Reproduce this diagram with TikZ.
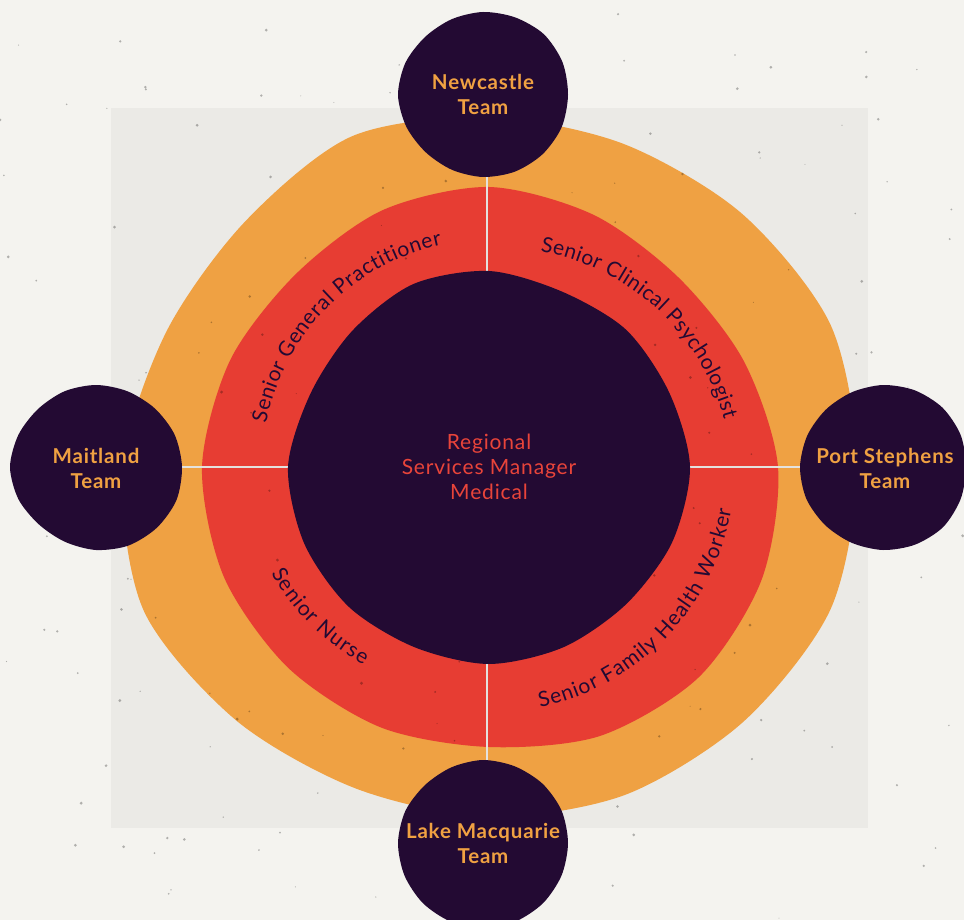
\documentclass[tikz,border=0pt]{standalone}
\usepackage{fontspec}
\setmainfont{Lato}
\newfontfamily\teamfont{Lato}[LetterSpace=4]
\newfontfamily\centerfont{Lato}[LetterSpace=4]
\newfontfamily\ringfont{Lato}
\usetikzlibrary{decorations.text}
\definecolor{bgout}{HTML}{F4F3EF}
\definecolor{bgsq}{HTML}{EBEAE6}
\definecolor{orng}{HTML}{EFA143}
\definecolor{redring}{HTML}{E73D33}
\definecolor{plum}{HTML}{230A33}
\definecolor{teamtxt}{HTML}{F0A142}
\definecolor{ctrtxt}{HTML}{E8443A}
\definecolor{linkline}{HTML}{E4E2DE}
\begin{document}
\begin{tikzpicture}[x=1pt,y=1pt,
  blob/.style={fill=plum},
  teamlabel/.style={text=teamtxt, font=\teamfont\bfseries\fontsize{20.5}{25}\selectfont, align=center, inner sep=0pt},
  centerlabel/.style={text=ctrtxt, font=\centerfont\fontsize{21}{25}\selectfont, align=center, inner sep=0pt},
  link/.style={draw=linkline, line width=2.6pt},
  speck/.style={fill=black, fill opacity=0.28},
  ringlabel/.style={decorate, decoration={text along path, text align=fit to path,
     text={|\ringfont\fontsize{21}{24}\selectfont\color{plum}|#1}}}
]
\useasboundingbox (0,-920) rectangle (964,0);
\fill[bgout] (0,-920) rectangle (964,0);
\fill[bgsq] (111,-108) rectangle (868,-828);

% named points
\coordinate (C) at (489,-467);
\coordinate (C2) at (500,-480);
\coordinate (C3) at (480,-455);
\coordinate (nwEnd) at (487,-170);
\coordinate (topIn) at (487,-285);
\coordinate (botIn) at (487,-650);
\coordinate (lmEnd) at (487,-768);
\coordinate (mtEnd) at (175,-467);
\coordinate (leftIn) at (300,-467);
\coordinate (rightIn) at (680,-467);
\coordinate (psEnd) at (808,-467);

\begin{scope}[shift={(489,-467)}]
% orange outer blob
\fill[orng] plot[smooth cycle] coordinates {(0:368) (22.5:370) (45:358) (67.5:350) (90:350) (112.5:358) (135:346) (157.5:350) (180:366) (202.5:374) (225:358) (247.5:348) (270:350) (292.5:355) (315:360) (337.5:370)};
% red ring
\fill[redring] plot[smooth cycle] coordinates {(0:289) (22.5:276) (45:268) (67.5:273) (90:280) (112.5:278) (135:273) (157.5:280) (180:287) (202.5:287) (225:284) (247.5:282) (270:280) (292.5:291) (315:297) (337.5:295)};
\end{scope}

% speckles
\pgfmathsetseed{7}
\foreach \i in {1,...,170}{
  \pgfmathsetmacro\dx{rnd*964}
  \pgfmathsetmacro\dy{-rnd*920}
  \pgfmathsetmacro\dr{0.5+rnd*1.1}
  \fill[speck] (\dx,\dy) circle[radius=\dr];
}

% connector lines
\draw[link] (nwEnd) -- (topIn);
\draw[link] (botIn) -- (lmEnd);
\draw[link] (mtEnd) -- (leftIn);
\draw[link] (rightIn) -- (psEnd);

% dark centre
\begin{scope}[shift={(489,-467)}]
\fill[blob] plot[smooth cycle] coordinates {(0:201) (22.5:195) (45:194) (67.5:190) (90:196) (112.5:198) (135:193) (157.5:193) (180:201) (202.5:200) (225:198) (247.5:195) (270:197) (292.5:195) (315:194) (337.5:198)};
\end{scope}

% team blobs
\begin{scope}[shift={(483,-95)}]
\fill[blob] plot[smooth cycle] coordinates {(0:85) (22.5:86) (45:86) (67.5:84) (90:83) (112.5:82) (135:82) (157.5:84) (180:85) (202.5:83) (225:81) (247.5:81) (270:82) (292.5:83) (315:84) (337.5:85)};
\end{scope}
\begin{scope}[shift={(96,-467)}]
\fill[blob] plot[smooth cycle] coordinates {(0:86) (22.5:85) (45:83) (67.5:82) (90:82) (112.5:82) (135:82) (157.5:84) (180:86) (202.5:84) (225:81) (247.5:81) (270:83) (292.5:85) (315:86) (337.5:87)};
\end{scope}
\begin{scope}[shift={(883,-467)}]
\fill[blob] plot[smooth cycle] coordinates {(0:83) (22.5:84) (45:84) (67.5:83) (90:82) (112.5:81) (135:81) (157.5:82) (180:83) (202.5:83) (225:82) (247.5:82) (270:83) (292.5:84) (315:85) (337.5:84)};
\end{scope}
\begin{scope}[shift={(483,-843)}]
\fill[blob] plot[smooth cycle] coordinates {(0:85) (22.5:85) (45:84) (67.5:83) (90:83) (112.5:82) (135:82) (157.5:84) (180:85) (202.5:85) (225:85) (247.5:85) (270:85) (292.5:85) (315:85) (337.5:85)};
\end{scope}

% labels
\node[teamlabel] (newcastle) at (483,-94) {Newcastle\\Team};
\node[teamlabel] (maitland) at (96,-468) {Maitland\\Team};
\node[teamlabel] (portstephens) at (885,-468) {Port Stephens\\Team};
\node[teamlabel] (lakemac) at (483,-843) {Lake Macquarie\\Team};
\node[centerlabel] (rsm) at (489,-467) {Regional\\Services Manager\\Medical};

% ring labels
\path[ringlabel={Senior General Practitioner}] (C) ++(169:227) arc[start angle=169, end angle=102, radius=227];
\path[ringlabel={Senior Clinical Psychologist}] (C2) ++(80:232) arc[start angle=80, end angle=15, radius=232];
\path[ringlabel={Senior Nurse}] (C3) ++(209.5:240) arc[start angle=209.5, end angle=241, radius=240];
\path[ringlabel={Senior Family Health Worker}] (C) ++(-78:246) arc[start angle=-78, end angle=-10, radius=246];
\end{tikzpicture}
\end{document}
